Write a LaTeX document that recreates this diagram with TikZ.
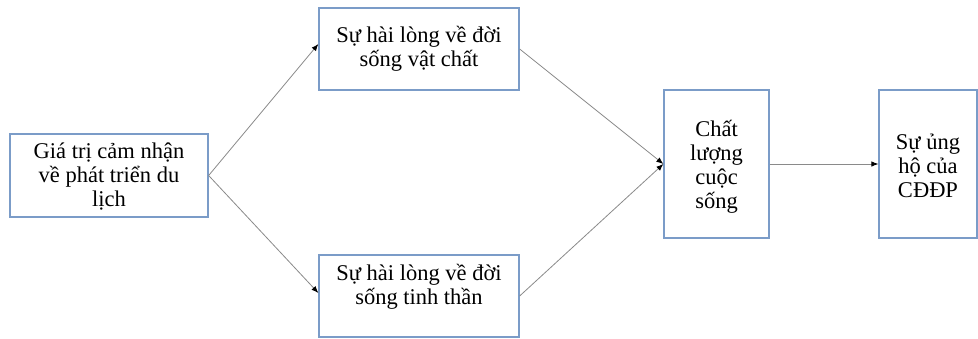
\documentclass[tikz,border=0pt]{standalone}
\usepackage{fontspec}
\setmainfont{Liberation Serif}
\usetikzlibrary{arrows.meta}
\definecolor{boxblue}{HTML}{7B9CC8}
\definecolor{lineg}{HTML}{8A8A8A}
\tikzset{
  box/.style={draw=boxblue, line width=1.3pt, fill=white, inner sep=0pt, align=center,
    font=\fontsize{22.5}{24}\selectfont},
  txt/.style={inner sep=0pt, align=center, font=\fontsize{22.5}{24}\selectfont},
  conn/.style={draw=lineg, line width=0.8pt, -{Latex[length=7pt,width=5.5pt,color=black]}}
}
\begin{document}
\begin{tikzpicture}[x=1pt,y=-1pt]
\useasboundingbox (0,0) rectangle (978,338);
\node[box, minimum width=198pt, minimum height=83pt] (a) at (109,175.5) {};
\node[txt] (at) at (109,177) {Giá trị cảm nhận\\về phát triển du\\lịch};
\node[box, minimum width=200pt, minimum height=82pt] (b) at (419,49) {Sự hài lòng về đời\\sống vật chất};
\node[box, minimum width=200pt, minimum height=82pt] (c) at (419,296) {};
\node[txt] (ct) at (419,287) {Sự hài lòng về đời\\sống tinh thần};
\node[box, minimum width=105pt, minimum height=148pt] (d) at (716.5,164) {};
\node[txt] (dt) at (716.5,167) {Chất\\lượng\\cuộc\\sống};
\node[box, minimum width=98pt, minimum height=148pt] (e) at (928,164) {};
\node[txt] (et) at (928,166) {Sự ủng\\hộ của\\CĐĐP};
\draw[conn] (a.east) -- ([yshift=5pt]b.west);
\draw[conn] (a.east) -- ([yshift=3pt]c.west);
\draw[conn] (b.east) -- (d.west);
\draw[conn] (c.east) -- (d.west);
\draw[conn] (d.east) -- (e.west);
\end{tikzpicture}
\end{document}
